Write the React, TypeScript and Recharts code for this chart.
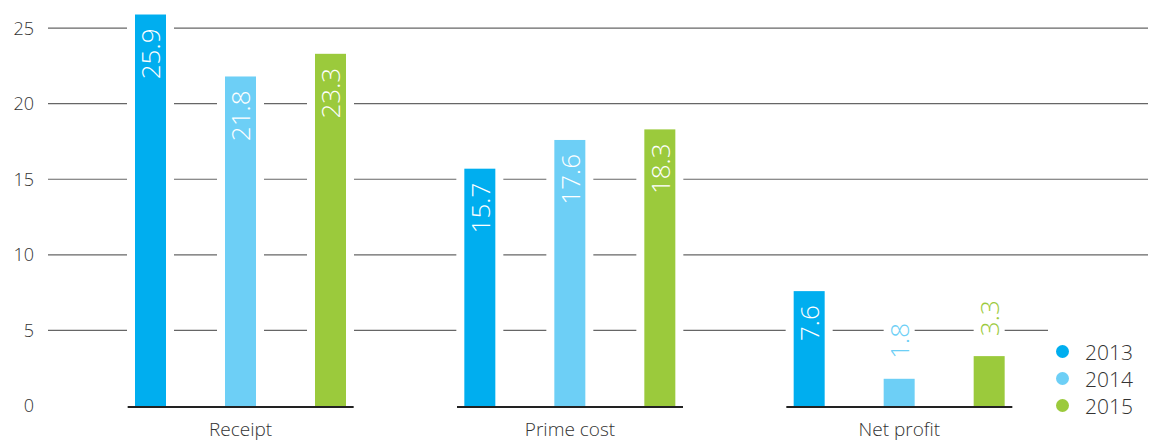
import { BarChart, Bar, XAxis, YAxis, CartesianGrid, Legend, LabelList } from 'recharts';

const categories = ['Receipt', 'Prime cost', 'Net profit'];
const values2013 = [25.9, 15.7, 7.6];
const values2014 = [21.8, 17.6, 1.8];
const values2015 = [23.3, 18.3, 3.3];
const years = ['2013', '2014', '2015'];
const yTicks = [0, 5, 10, 15, 20, 25];
const gridValues = [5, 10, 15, 20, 25];

const colors = ['#00aeef', '#6dcff6', '#9bca3c'];
const FONT = '"Open Sans", "Noto Sans", sans-serif';
const WEIGHT = 300;

const data = categories.map((name, i) => ({
  name,
  y2013: values2013[i],
  y2014: values2014[i],
  y2015: values2015[i],
}));

// bar with a white margin so the grid lines stop short of it
const PaddedBar = (props: any) => {
  const { x, y, width, height, fill } = props;
  if (!height || height <= 0) return null;
  return (
    <g>
      <rect x={x - 8} y={y} width={width + 16} height={height} fill="#fff" />
      <rect x={x} y={y} width={width} height={height} fill={fill} />
    </g>
  );
};

const makeLabel = (color: string) => (props: any) => {
  const { x, y, width, height, value } = props;
  const cx = x + width / 2;
  if (height > 60) {
    const ty = y + 14;
    return (
      <text
        x={cx}
        y={ty}
        transform={`rotate(-90 ${cx} ${ty})`}
        textAnchor="end"
        dominantBaseline="central"
        fill="#fff"
        fontSize={26}
        fontWeight={WEIGHT}
        fontFamily={FONT}
      >
        {value}
      </text>
    );
  }
  const ty = y - 20;
  return (
    <g>
      <rect x={x} y={ty - 44} width={width} height={46} fill="#fff" />
      <text
        x={cx}
        y={ty}
        transform={`rotate(-90 ${cx} ${ty})`}
        textAnchor="start"
        dominantBaseline="central"
        fill={color}
        fontSize={26}
        fontWeight={WEIGHT}
        fontFamily={FONT}
      >
        {value}
      </text>
    </g>
  );
};

const CategoryTick = (props: any) => {
  const { x, y, payload } = props;
  return (
    <g>
      <line x1={x - 113} x2={x + 113} y1={y + 1} y2={y + 1} stroke="#222" strokeWidth={2} />
      <text x={x} y={y + 30} textAnchor="middle" fill="#333" fontSize={19} fontWeight={WEIGHT} fontFamily={FONT}>
        {payload.value}
      </text>
    </g>
  );
};

const LegendBox = (props: any) => {
  const items = props.payload || [];
  return (
    <div style={{ background: '#fff', paddingTop: 13, paddingLeft: 8, fontFamily: FONT }}>
      {items.map((item: any) => (
        <div key={item.value} style={{ display: 'flex', alignItems: 'center', height: 27 }}>
          <span
            style={{
              width: 13,
              height: 13,
              borderRadius: '50%',
              background: item.color,
              display: 'inline-block',
              marginRight: 16,
            }}
          />
          <span style={{ fontSize: 21, color: '#333', fontWeight: WEIGHT }}>{item.value}</span>
        </div>
      ))}
    </div>
  );
};

const App = () => {
  return (
    <div style={{ width: 1150, height: 434, fontFamily: FONT }}>
      <BarChart
        width={1150}
        height={434}
        data={data}
        margin={{ top: 5, right: 10, bottom: 0, left: 0 }}
        barSize={31}
        barGap={59}
      >
        <CartesianGrid vertical={false} horizontalValues={gridValues} stroke="#666" strokeWidth={1.2} />
        <XAxis
          dataKey="name"
          axisLine={false}
          tickLine={false}
          tickSize={0}
          tickMargin={0}
          height={36}
          padding={{ left: 28, right: 84 }}
          tick={<CategoryTick />}
          interval={0}
        />
        <YAxis
          domain={[0, 26]}
          ticks={yTicks}
          axisLine={false}
          tickLine={false}
          tickSize={0}
          tickMargin={14}
          width={40}
          tick={{ fill: '#333', fontSize: 18, fontWeight: WEIGHT }}
        />
        <Legend
          layout="horizontal"
          verticalAlign="middle"
          align="center"
          content={<LegendBox />}
          wrapperStyle={{ position: 'absolute', left: 1040, top: 317, width: 110, height: 100 }}
        />
        <Bar dataKey="y2013" name={years[0]} fill={colors[0]} shape={<PaddedBar />} isAnimationActive={false}>
          <LabelList dataKey="y2013" content={makeLabel(colors[0])} />
        </Bar>
        <Bar dataKey="y2014" name={years[1]} fill={colors[1]} shape={<PaddedBar />} isAnimationActive={false}>
          <LabelList dataKey="y2014" content={makeLabel(colors[1])} />
        </Bar>
        <Bar dataKey="y2015" name={years[2]} fill={colors[2]} shape={<PaddedBar />} isAnimationActive={false}>
          <LabelList dataKey="y2015" content={makeLabel(colors[2])} />
        </Bar>
      </BarChart>
    </div>
  );
};

export default App;
